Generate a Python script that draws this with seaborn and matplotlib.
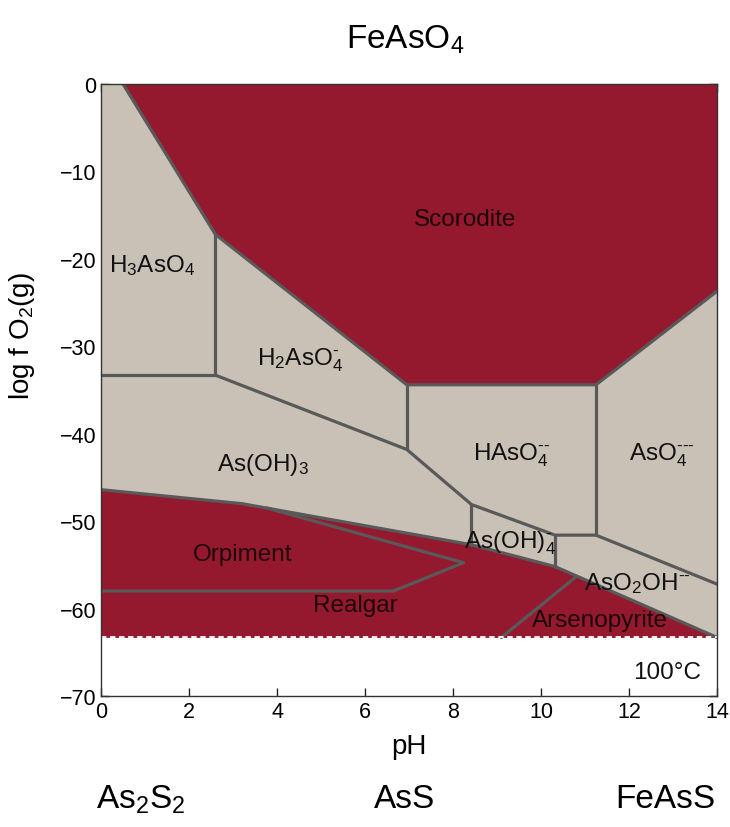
import numpy as np
import matplotlib
matplotlib.use("Agg")
import matplotlib.pyplot as plt
import seaborn as sns

# ---- data (pH, log fO2) ----
scorodite_ph = [0.5, 2.6, 6.95, 11.25, 14.0, 14.0]
scorodite_lf = [0.0, -17.2, -34.4, -34.4, -23.7, 0.0]

# top of the solid (orpiment / realgar / arsenopyrite) field
solid_ph = [0.0, 3.2, 8.42, 10.32, 14.0]
solid_lf = [-46.4, -48.0, -52.7, -55.2, -63.3]
floor_lf = -63.3

# aqueous boundaries
h3_h2_ph = [2.6, 2.6]
h3_h2_lf = [-17.2, -33.3]
h3_oh3_ph = [0.0, 2.6]
h3_oh3_lf = [-33.3, -33.3]
redox_ph = [2.6, 6.95, 8.42, 10.32, 11.25, 14.0]
redox_lf = [-33.3, -41.8, -48.1, -51.6, -51.6, -57.2]
v1_ph, v1_lf = [6.95, 6.95], [-34.4, -41.8]
v2_ph, v2_lf = [11.25, 11.25], [-34.4, -51.6]
v3_ph, v3_lf = [8.42, 8.42], [-48.1, -52.7]
v4_ph, v4_lf = [10.32, 10.32], [-51.6, -55.2]

# solid-solid boundaries
orp_ph = [0.0, 6.64, 8.24, 3.77]
orp_lf = [-58.0, -58.0, -54.75, -48.5]
asp_ph = [10.81, 9.1]
asp_lf = [-56.3, -63.3]

labels = [
    ("Scorodite", 8.27, -15.4, "red"),
    (r"H$_3$AsO$_4$", 1.16, -20.6, "aq"),
    ("H$_2$AsO$_4^{\u2010}$", 4.52, -31.5, "aq"),
    (r"As(OH)$_3$", 3.68, -43.5, "aq"),
    ("HAsO$_4^{\u2010\u2010}$", 9.33, -42.3, "aq"),
    ("AsO$_4^{\u2010\u2010\u2010}$", 12.74, -42.3, "aq"),
    ("As(OH)$_4^{\u2010}$", 9.3, -52.4, "aq"),
    ("AsO$_2$OH$^{\u2010\u2010}$", 12.2, -57.0, "aq"),
    ("Orpiment", 3.23, -53.8, "red"),
    ("Realgar", 5.77, -59.6, "red"),
    ("Arsenopyrite", 11.34, -61.3, "red"),
    ("100°C", 12.86, -67.3, "aq"),
]

RED = "#94182E"
BEIGE = "#C9C0B6"
LINE = "#595959"

sns.set_theme(style="ticks")
plt.rcParams["font.family"] = ["Liberation Sans", "DejaVu Sans"]
plt.rcParams["mathtext.fontset"] = "custom"
plt.rcParams["mathtext.rm"] = "Liberation Sans"
plt.rcParams["mathtext.it"] = "Liberation Sans:italic"
plt.rcParams["text.color"] = "black"
plt.rcParams["axes.labelcolor"] = "black"

fig = plt.figure(figsize=(7.3, 8.28), dpi=100)
ax = fig.add_axes([101 / 730, 1 - 697 / 828, 616 / 730, 612 / 828])

# aqueous background
ax.fill_between([0, 14], [0, 0], [floor_lf, floor_lf], color=BEIGE, lw=0, zorder=1)
# scorodite
ax.fill(scorodite_ph, scorodite_lf, color=RED, lw=0, zorder=2)
# solid field
ax.fill_between(solid_ph, solid_lf, floor_lf, color=RED, lw=0, zorder=2)

lw = 2.3
segs = [
    (scorodite_ph[:5], scorodite_lf[:5]),
    (solid_ph, solid_lf),
    (h3_h2_ph, h3_h2_lf), (h3_oh3_ph, h3_oh3_lf),
    (redox_ph, redox_lf),
    (v1_ph, v1_lf), (v2_ph, v2_lf), (v3_ph, v3_lf), (v4_ph, v4_lf),
    (orp_ph, orp_lf), (asp_ph, asp_lf),
]
for xs, ys in segs:
    sns.lineplot(x=xs, y=ys, sort=False, estimator=None, color=LINE,
                 lw=lw, ax=ax, zorder=4, solid_capstyle="round")

ax.plot([0, 14], [floor_lf, floor_lf], color="white", lw=1.3,
        ls=(0, (3, 2)), zorder=5)

for txt, x, y, kind in labels:
    c = "#1c0709" if kind == "red" else "#111111"
    ax.text(x, y, txt, ha="center", va="center", fontsize=17.5, color=c, zorder=6)

ax.set_xlim(0, 14)
ax.set_ylim(-70, 0)
ax.set_xticks(np.arange(0, 15, 2))
ax.set_yticks(np.arange(-70, 1, 10))
ax.tick_params(direction="in", top=True, right=True, length=6, width=1,
               labelsize=15.5, colors="#222222", labelcolor="black")
for s in ax.spines.values():
    s.set_color("#333333")
    s.set_linewidth(1.0)
    s.set_zorder(7)

ax.set_xlabel("pH", fontsize=20)
ax.set_ylabel(r"log f O$_2$(g)", fontsize=20)
ax.xaxis.set_label_coords(0.5, -0.06)
ax.yaxis.set_label_coords(-0.104, 0.59)

fig.text(405 / 730, 1 - 40 / 828, r"FeAsO$_4$", ha="center", va="center", fontsize=24)
fig.text(141 / 730, 1 - 800 / 828, r"As$_2$S$_2$", ha="center", va="center", fontsize=24)
fig.text(405 / 730, 1 - 800 / 828, "AsS", ha="center", va="center", fontsize=24)
fig.text(665 / 730, 1 - 800 / 828, "FeAsS", ha="center", va="center", fontsize=24)

fig.savefig("out.png", dpi=100, facecolor="white")
